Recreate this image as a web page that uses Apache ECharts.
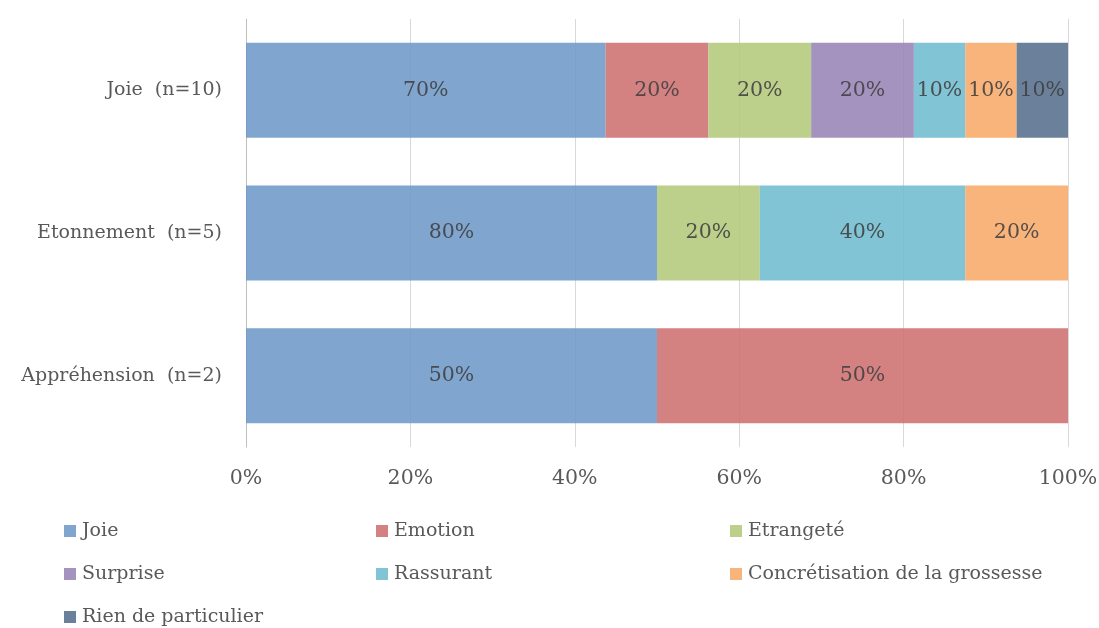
<!DOCTYPE html>
<html><head><meta charset="utf-8">
<script src="https://cdn.jsdelivr.net/npm/echarts@6/dist/echarts.min.js"></script>
<style>html,body{margin:0;padding:0;background:#fff}#c{width:1099px;height:628px}</style>
</head><body><div id="c"></div>
<script>
const categories = ['Appréhension  (n=2)', 'Etonnement  (n=5)', 'Joie  (n=10)'];
const seriesNames = ['Joie', 'Emotion', 'Etrangeté', 'Surprise', 'Rassurant', 'Concrétisation de la grossesse', 'Rien de particulier'];
const joie = [50, 80, 70];
const emotion = [50, 0, 20];
const etrangete = [0, 20, 20];
const surprise = [0, 0, 20];
const rassurant = [0, 40, 10];
const concretisation = [0, 20, 10];
const rien = [0, 0, 10];
const xTicks = [0, 20, 40, 60, 80, 100];
const colors = ['#6E9AC9', '#CE6F6F', '#B3C97C', '#9984B6', '#6FBCD0', '#F8AA6A', '#566E8D'];

const raw = [joie, emotion, etrangete, surprise, rassurant, concretisation, rien];
const totals = categories.map((_, i) => raw.reduce((s, a) => s + a[i], 0));
const FONT = 'DejaVu Serif';

const chart = echarts.init(document.getElementById('c'), null, {renderer: 'canvas'});
chart.setOption({
  animation: false,
  color: colors,
  grid: {left: 246, right: 31, top: 19, bottom: 181, containLabel: false, outerBoundsMode: 'none'},
  xAxis: {
    type: 'value', min: 0, max: 100, interval: 20,
    axisLine: {show: false}, axisTick: {show: false},
    splitLine: {show: true, lineStyle: {color: '#d9d9d9', width: 1}},
    axisLabel: {formatter: v => xTicks.includes(v) ? v + '%' : '', fontFamily: FONT, fontSize: 20.5, color: '#595959', margin: 21}
  },
  yAxis: {
    type: 'category', data: categories,
    axisLine: {show: true, lineStyle: {color: '#bfbfbf', width: 1}},
    axisTick: {show: false},
    axisLabel: {fontFamily: FONT, fontSize: 19, color: '#595959', margin: 24}
  },
  legend: [
    {data: ['Joie', 'Surprise', 'Rien de particulier'], left: 64},
    {data: ['Emotion', 'Rassurant'], left: 376},
    {data: ['Etrangeté', 'Concrétisation de la grossesse'], left: 730}
  ].map(l => Object.assign({
    orient: 'vertical', top: 521, itemWidth: 12, itemHeight: 12, itemGap: 23, padding: 0,
    icon: 'rect',
    textStyle: {fontFamily: FONT, fontSize: 19, color: '#595959', lineHeight: 20, padding: [0, 0, 0, 1]}
  }, l)),
  series: raw.map((arr, si) => ({
    name: seriesNames[si], type: 'bar', stack: 'total', barWidth: 95,
    itemStyle: {opacity: 0.88},
    data: arr.map((v, i) => v / totals[i] * 100),
    label: {
      show: true, position: 'inside', fontFamily: FONT, fontSize: 20.5, color: '#404040',
      formatter: p => arr[p.dataIndex] > 0 ? arr[p.dataIndex] + '%' : ''
    }
  }))
});
</script></body></html>
